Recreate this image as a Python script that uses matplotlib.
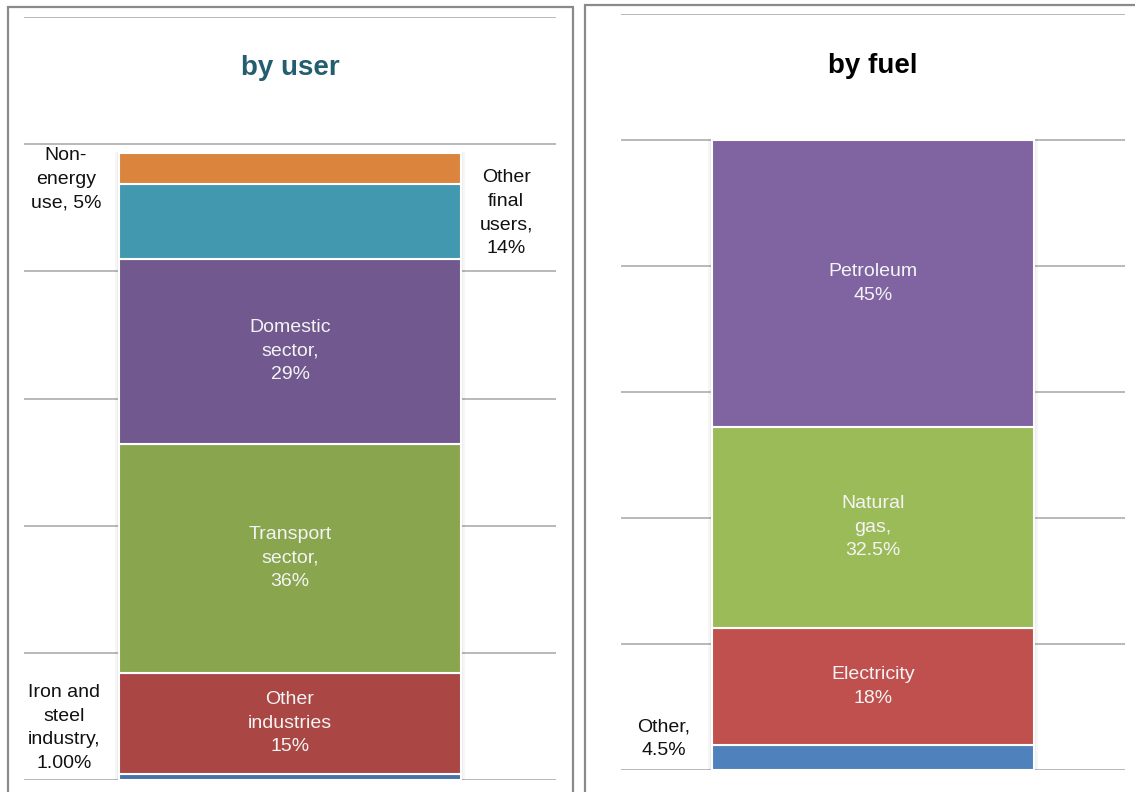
import numpy as np
import matplotlib
matplotlib.use("Agg")
import matplotlib.pyplot as plt
from matplotlib.patches import Rectangle

plt.rcParams["font.family"] = ["Liberation Sans", "DejaVu Sans"]

# stacked shares, bottom to top (heights)
user_cats = ["Iron and steel industry", "Other industries", "Transport sector",
             "Domestic sector", "Other final users", "Non-energy use"]
user_vals = [1.0, 15.9, 36.0, 29.1, 11.8, 4.8]
user_cols = ["#4572A7", "#AA4643", "#89A54E", "#71588F", "#4198AF", "#DB843D"]
user_labels = ["Iron and\nsteel\nindustry,\n1.00%", "Other\nindustries\n15%",
               "Transport\nsector,\n36%", "Domestic\nsector,\n29%",
               "Other\nfinal\nusers,\n14%", "Non-\nenergy\nuse, 5%"]
# which labels sit inside the bar
user_inside = [False, True, True, True, False, False]

fuel_cats = ["Other", "Electricity", "Natural gas", "Petroleum"]
fuel_vals = [4.0, 18.5, 32.0, 45.5]
fuel_cols = ["#4F81BD", "#C0504D", "#9BBB59", "#8064A2"]
fuel_labels = ["Other,\n4.5%", "Electricity\n18%", "Natural\ngas,\n32.5%", "Petroleum\n45%"]
fuel_inside = [False, True, True, True]

W, H = 1135, 792
fig = plt.figure(figsize=(W / 100, H / 100), dpi=100)


def px_axes(x0, x1, ytop, ybot):
    return fig.add_axes([x0 / W, (H - ybot) / H, (x1 - x0) / W, (ybot - ytop) / H])


def draw_stack(ax, vals, cols, labels, inside, outside_pos, xhalf):
    ax.set_xlim(-xhalf, xhalf)
    ax.set_ylim(0, 120)
    for g in np.arange(0, 121, 20):
        ax.axhline(g, color="#A5A5A5", lw=1.1, zorder=0)
    total = sum(vals)
    # soft shadow around the bar
    ax.bar(0, total + 0.5, width=1.025, bottom=-0.4, color="#000000", alpha=0.035,
           zorder=1, linewidth=0)
    ax.bar(0, total + 0.3, width=1.012, bottom=-0.3, color="#000000", alpha=0.035,
           zorder=1, linewidth=0)
    bottom = 0
    for v, c, lab, ins in zip(vals, cols, labels, inside):
        ax.bar(0, v, width=1.0, bottom=bottom, color=c, edgecolor="white",
               linewidth=1.5, zorder=2)
        if ins:
            ax.text(0, bottom + v / 2, lab, ha="center", va="center", color="#F4F4F4",
                    fontsize=14, linespacing=1.5, zorder=3)
        bottom += v
    for lab, (x, y) in outside_pos:
        ax.text(x, y, lab, ha="center", va="center", color="#111111",
                fontsize=14, linespacing=1.5, zorder=3)
    for s in ax.spines.values():
        s.set_visible(False)
    ax.set_xticks([])
    ax.set_yticks([])
    ax.patch.set_alpha(0)


# left panel
ax1 = px_axes(24, 556, 17, 780)
draw_stack(ax1, user_vals, user_cols, user_labels, user_inside,
           [(user_labels[0], (-0.66, 8.2)), (user_labels[4], (0.632, 89.2)),
            (user_labels[5], (-0.655, 94.5))], 0.778)
ax1.text(0.5, 0.933, "by user", transform=ax1.transAxes, ha="center", va="center",
         fontsize=20, fontweight="bold", color="#245E6E")

# right panel
ax2 = px_axes(621, 1125, 14, 770)
draw_stack(ax2, fuel_vals, fuel_cols, fuel_labels, fuel_inside,
           [(fuel_labels[0], (-0.65, 4.9))], 0.782)
ax2.text(0.5, 0.931, "by fuel", transform=ax2.transAxes, ha="center", va="center",
         fontsize=20, fontweight="bold", color="#000000")

# panel frames
fig.add_artist(Rectangle((8 / W, -0.1), 565 / W, (H - 7) / H + 0.1, transform=fig.transFigure,
                         fill=False, edgecolor="#8A8A8A", lw=1.6))
fig.add_artist(Rectangle((585 / W, -0.1), 0.6, (H - 5) / H + 0.1, transform=fig.transFigure,
                         fill=False, edgecolor="#8A8A8A", lw=1.6))

fig.savefig("out.png", dpi=100)
